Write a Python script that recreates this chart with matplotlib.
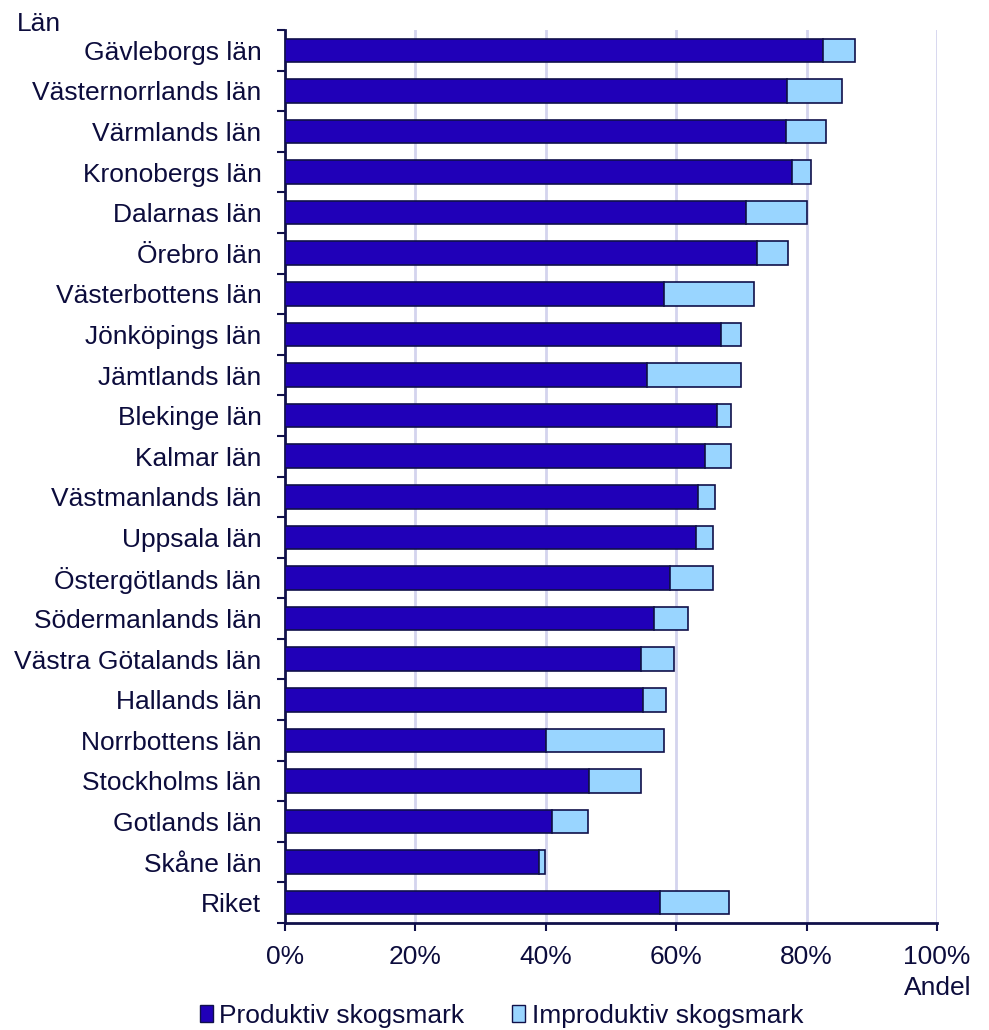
import matplotlib
matplotlib.use("Agg")
import matplotlib.pyplot as plt
import numpy as np
from matplotlib.patches import Patch

plt.rcParams['font.family'] = ['Liberation Sans', 'DejaVu Sans']

lan = ["Gävleborgs län", "Västernorrlands län", "Värmlands län", "Kronobergs län",
       "Dalarnas län", "Örebro län", "Västerbottens län", "Jönköpings län",
       "Jämtlands län", "Blekinge län", "Kalmar län", "Västmanlands län",
       "Uppsala län", "Östergötlands län", "Södermanlands län",
       "Västra Götalands län", "Hallands län", "Norrbottens län",
       "Stockholms län", "Gotlands län", "Skåne län", "Riket"]
produktiv = [82.5, 77.0, 76.9, 77.7, 70.7, 72.4, 58.1, 66.9, 55.5, 66.3, 64.4,
             63.3, 63.1, 59.1, 56.6, 54.6, 54.9, 40.0, 46.6, 41.0, 39.0, 57.5]
totalt = [87.4, 85.4, 82.9, 80.7, 80.1, 77.1, 71.9, 70.0, 69.9, 68.4, 68.4,
          65.9, 65.7, 65.6, 61.8, 59.7, 58.5, 58.2, 54.6, 46.4, 39.9, 68.1]
improduktiv = [t - p for t, p in zip(totalt, produktiv)]
xticks = [0, 20, 40, 60, 80, 100]
xticklabels = ["0%", "20%", "40%", "60%", "80%", "100%"]

TXT = "#0c0c3c"
DARK = "#2000b8"
LIGHT = "#99d5ff"
EDGE = "#10104a"
FS = 19

fig = plt.figure(figsize=(9.89, 10.30), dpi=100)
ax = fig.add_axes([285/989, 1-923/1030, (937-285)/989, (923-30)/1030])

n = len(lan)
y = np.arange(n)
ax.barh(y, produktiv, height=0.58, color=DARK, edgecolor=EDGE, linewidth=1.2, zorder=3)
ax.barh(y, improduktiv, left=produktiv, height=0.58, color=LIGHT, edgecolor=EDGE,
        linewidth=1.2, zorder=3)

ax.set_ylim(n - 0.5, -0.5)
ax.set_xlim(0, 100)

ax.set_xticks(xticks)
ax.set_xticklabels(xticklabels, fontsize=FS, color=TXT)
ax.tick_params(axis='x', direction='out', length=6, width=1.5, color=EDGE, pad=10)

ax.set_yticks(np.arange(-0.5, n, 1.0))
ax.set_yticklabels([])
ax.tick_params(axis='y', which='major', direction='out', length=6, width=1.5, color=EDGE)
ax.set_yticks(y, minor=True)
ax.set_yticklabels(lan, minor=True, fontsize=FS, color=TXT)
ax.tick_params(axis='y', which='minor', length=0, pad=17)

for v in xticks[1:]:
    ax.axvline(v, color="#d4d4ee", linewidth=2, zorder=1)

for s in ['top', 'right']:
    ax.spines[s].set_visible(False)
for s in ['left', 'bottom']:
    ax.spines[s].set_color(EDGE)
    ax.spines[s].set_linewidth(2)

fig.text(17/989, 1-31/1030, "Län", fontsize=FS, color=TXT, ha='left', va='baseline')
fig.text(971/989, 1-995/1030, "Andel", fontsize=FS, color=TXT, ha='right', va='baseline')

handles = [Patch(facecolor=DARK, edgecolor=EDGE, linewidth=1.0, label="Produktiv skogsmark"),
           Patch(facecolor=LIGHT, edgecolor=EDGE, linewidth=1.0, label="Improduktiv skogsmark")]
leg = fig.legend(handles=handles, loc='lower left', bbox_to_anchor=(189/989, -0.008),
                 ncol=2, frameon=False, fontsize=FS, handlelength=0.5, handleheight=0.65,
                 handletextpad=0.25, columnspacing=1.8, borderaxespad=0)
for t in leg.get_texts():
    t.set_color(TXT)

fig.savefig("out.png", dpi=100)
